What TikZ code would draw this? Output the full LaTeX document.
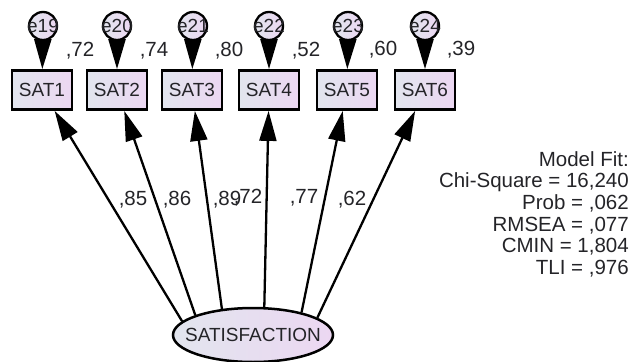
\documentclass[tikz,border=0pt]{standalone}
\usepackage{fontspec}
\setmainfont{Liberation Sans}
\usetikzlibrary{arrows.meta,shapes.geometric}
\definecolor{fillL}{RGB}{226,229,238}
\definecolor{fillR}{RGB}{236,215,242}
\definecolor{ink}{RGB}{36,36,40}

\begin{document}
\begin{tikzpicture}[x=1pt,y=-1pt,text=ink,
                       obs node/.style={rectangle,draw,line width=2.8pt,left color=fillL,right color=fillR,
                                        minimum width=60pt,minimum height=39pt,inner sep=0pt,
                                        font=\fontsize{19}{22}\selectfont},
                       err node/.style={circle,draw,line width=2.3pt,left color=fillL,right color=fillR,
                                        minimum size=28pt,inner sep=0pt,font=\fontsize{19}{22}\selectfont},
                       lat node/.style={ellipse,draw,line width=2.5pt,left color=fillL,right color=fillR,
                                        minimum width=160pt,minimum height=54pt,inner sep=0pt,
                                        font=\fontsize{19}{22}\selectfont},
                       coef/.style={inner sep=0pt,font=\fontsize{20.5}{22}\selectfont},
                       load/.style={line width=2.3pt,-{Triangle[length=30pt,width=17pt]}}
                           ]
   \useasboundingbox (0,0) rectangle (633,362);
   % observed indicators
   \node[obs node] (s1) at (42,90)  {SAT1};
   \node[obs node] (s2) at (117,90) {SAT2};
   \node[obs node] (s3) at (192,90) {SAT3};
   \node[obs node] (s4) at (269,90) {SAT4};
   \node[obs node] (s5) at (347,90) {SAT5};
   \node[obs node] (s6) at (425,90) {SAT6};
   % error terms
   \node[err node] (e1) at (43,26)  {\makebox[0pt]{e19}};
   \node[err node] (e2) at (117,26) {\makebox[0pt]{e20}};
   \node[err node] (e3) at (193,26) {\makebox[0pt]{e21}};
   \node[err node] (e4) at (269,26) {\makebox[0pt]{e22}};
   \node[err node] (e5) at (348,26) {\makebox[0pt]{e23}};
   \node[err node] (e6) at (425,26) {\makebox[0pt]{e24}};
   % latent factor
   \node[lat node] (sat) at (253,335) {\makebox[0pt]{SATISFACTION}};
      \path[load]%
    (e1) edge (s1)
    (e2) edge (s2)
    (e3) edge (s3)
    (e4) edge (s4)
    (e5) edge (s5)
    (e6) edge (s6)
    (sat.169) edge (s1)
    (sat.161) edge (s2)
    (sat.140) edge (s3)
    (sat.68)  edge (s4)
    (sat.25)  edge (s5)
    (sat.15)  edge (s6);
   % squared multiple correlations
   \node[coef] (r1) at (80,51)  {,72};
   \node[coef] (r2) at (154,51) {,74};
   \node[coef] (r3) at (229,51) {,80};
   \node[coef] (r4) at (306,51) {,52};
   \node[coef] (r5) at (383,50) {,60};
   \node[coef] (r6) at (461,50) {,39};
   % loadings
   \node[coef] (l1) at (133,200) {,85};
   \node[coef] (l2) at (177,200) {,86};
   \node[coef] (l3) at (227,200) {,89};
   \node[coef] (l4) at (248,198) {,72};
   \node[coef] (l5) at (304,198) {,77};
   \node[coef] (l6) at (352,200) {,62};
   % fit indices
   \node[coef,anchor=north east,align=right,font=\fontsize{20.5}{21.7}\selectfont] (modelfit) at (629,151)
      {Model Fit:\\Chi-Square = 16,240\\Prob = ,062\\RMSEA = ,077\\CMIN = 1,804\\TLI = ,976};
      \end{tikzpicture}
\end{document}
